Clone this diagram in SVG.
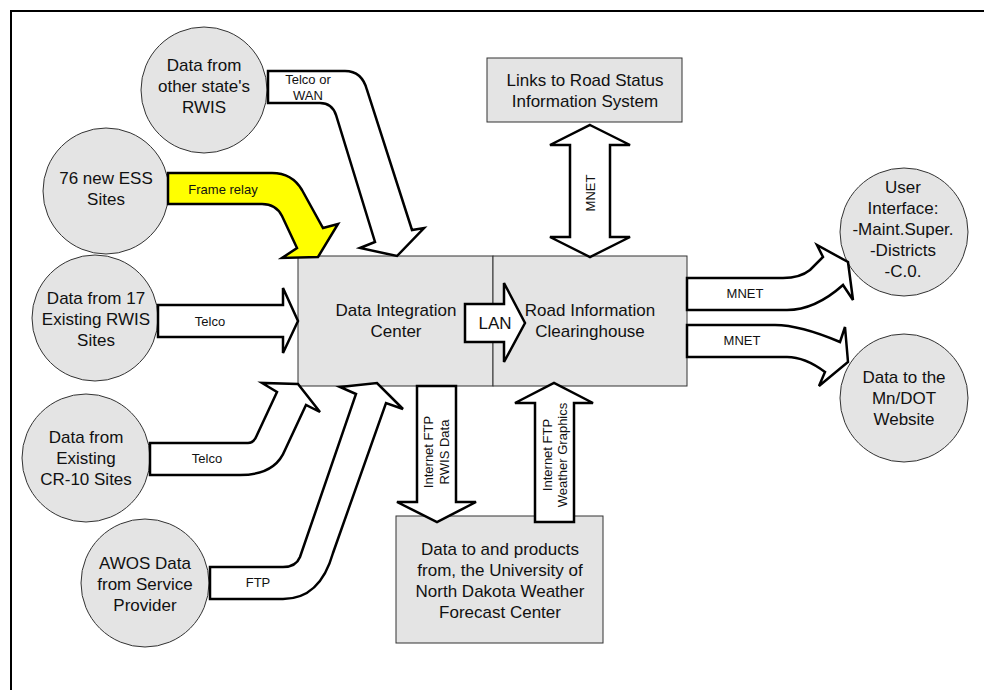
<svg xmlns="http://www.w3.org/2000/svg" width="984" height="690" viewBox="0 0 984 690">
<style>
.node{fill:#e4e4e4;stroke:#333;stroke-width:1}
.t{font-family:"Liberation Sans",Arial,sans-serif;font-size:17px;fill:#111;text-anchor:middle}
.l{font-family:"Liberation Sans",Arial,sans-serif;font-size:13px;fill:#111;text-anchor:middle}
.arr{fill:#fff;stroke:#000;stroke-width:2.5;stroke-linejoin:miter}
.yel{fill:#ffff00;stroke:#000;stroke-width:2.5}
</style>
<rect width="984" height="690" fill="#fff"/>
<path d="M11,690 V11 H984" fill="none" stroke="#000" stroke-width="2"/>

<g id="other-state">
<circle class="node" cx="204" cy="90" r="63"/>
<text class="t"><tspan x="204" y="71">Data from</tspan><tspan x="204" y="92">other state's</tspan><tspan x="204" y="113">RWIS</tspan></text>
</g>
<g id="ess-sites">
<circle class="node" cx="106" cy="191" r="63"/>
<text class="t"><tspan x="106" y="184">76 new ESS</tspan><tspan x="106" y="205">Sites</tspan></text>
</g>
<g id="rwis-17">
<circle class="node" cx="95" cy="318" r="63"/>
<text class="t"><tspan x="96" y="304">Data from 17</tspan><tspan x="96" y="325">Existing RWIS</tspan><tspan x="96" y="346">Sites</tspan></text>
</g>
<g id="cr10">
<circle class="node" cx="86" cy="458" r="64"/>
<text class="t"><tspan x="86" y="443">Data from</tspan><tspan x="86" y="464">Existing</tspan><tspan x="86" y="485">CR-10 Sites</tspan></text>
</g>
<g id="awos">
<circle class="node" cx="145" cy="583" r="64"/>
<text class="t"><tspan x="145" y="569">AWOS Data</tspan><tspan x="145" y="590">from Service</tspan><tspan x="145" y="611">Provider</tspan></text>
</g>
<g id="user-interface">
<circle class="node" cx="904" cy="232" r="64"/>
<text class="t"><tspan x="903" y="193">User</tspan><tspan x="903" y="214">Interface:</tspan><tspan x="903" y="235">-Maint.Super.</tspan><tspan x="903" y="256">-Districts</tspan><tspan x="903" y="277">-C.0.</tspan></text>
</g>
<g id="mndot">
<circle class="node" cx="904" cy="398" r="64"/>
<text class="t"><tspan x="904" y="383">Data to the</tspan><tspan x="904" y="404">Mn/DOT</tspan><tspan x="904" y="425">Website</tspan></text>
</g>
<g id="links">
<rect class="node" x="487" y="58" width="195" height="64"/>
<text class="t"><tspan x="585" y="86">Links to Road Status</tspan><tspan x="585" y="107">Information System</tspan></text>
</g>
<g id="dic">
<rect class="node" x="298" y="256" width="195" height="130"/>
<text class="t"><tspan x="396" y="316">Data Integration</tspan><tspan x="396" y="337">Center</tspan></text>
</g>
<g id="ric">
<rect class="node" x="493" y="256" width="194" height="130"/>
<text class="t"><tspan x="590" y="316">Road Information</tspan><tspan x="590" y="337">Clearinghouse</tspan></text>
</g>
<g id="und">
<rect class="node" x="396" y="516" width="207" height="127"/>
<text class="t"><tspan x="500" y="555">Data to and products</tspan><tspan x="500" y="576">from, the University of</tspan><tspan x="500" y="597">North Dakota Weather</tspan><tspan x="500" y="618">Forecast Center</tspan></text>
</g>

<g id="connectors">
<path class="yel" d="M168,173 H272 Q292,173 302,190 L323,228 L338,224 L318,257 L282,258 L297,248 L282,216 Q276,204 262,204 H168 Z"/>
<text class="l" x="223" y="194">Frame relay</text>

<path class="arr" d="M268,71 H345 Q362,71 367,90 L412,230 L424,228 L397,256 L360,248 L375,242 L336,115 Q332,103 320,103 H268 Z"/>
<text class="l"><tspan x="308" y="84">Telco or</tspan><tspan x="308" y="100">WAN</tspan></text>

<path class="arr" d="M158,305 H283 V288 L298,321 L283,353 V337 H158 Z"/>
<text class="l" x="210" y="326">Telco</text>

<path class="arr" d="M150,443 H248 Q254,443 257,435 L277,392 L262,383 L298,384 L320,412 L306,405 L285,450 Q275,475 240,475 H150 Z"/>
<text class="l" x="207" y="463">Telco</text>

<path class="arr" d="M210,567 H283 Q296,567 300,557 L356,394 L340,387 L377,383 L403,409 L386,403 L333,553 Q320,599 283,599 H210 Z"/>
<text class="l" x="258" y="587">FTP</text>

<path class="arr" d="M465,304 H504 V283 L525,323 L504,362 V342 H465 Z"/>
<text class="t" x="495" y="329">LAN</text>

<path class="arr" d="M590,125 L630,145 L610,145 L610,237 L630,237 L590,257 L550,237 L570,237 L570,145 L550,145 Z"/>
<text class="l" transform="translate(595,193) rotate(-90)" x="0" y="0">MNET</text>

<path class="arr" d="M417,386 H456 V502 H476 L437,522 L397,502 H417 Z"/>
<text class="l" transform="translate(437,452) rotate(-90)"><tspan x="0" y="-4">Internet FTP</tspan><tspan x="0" y="12">RWIS Data</tspan></text>

<path class="arr" d="M535,522 V403 H515 L554,383 L593,403 H574 V522 Z"/>
<text class="l" transform="translate(554,455) rotate(-90)"><tspan x="0" y="-2">Internet FTP</tspan><tspan x="0" y="13">Weather Graphics</tspan></text>

<path class="arr" d="M687,278 H783 Q800,278 810,270 L823,257 L817,245 L848,262 L853,300 L843,285 Q815,310 787,310 H687 Z"/>
<text class="l" x="745" y="298">MNET</text>

<path class="arr" d="M687,325 H775 Q800,325 840,342 L845,327 L848,362 L819,386 L825,372 Q805,357 787,357 H687 Z"/>
<text class="l" x="742" y="345">MNET</text>
</g>
</svg>
